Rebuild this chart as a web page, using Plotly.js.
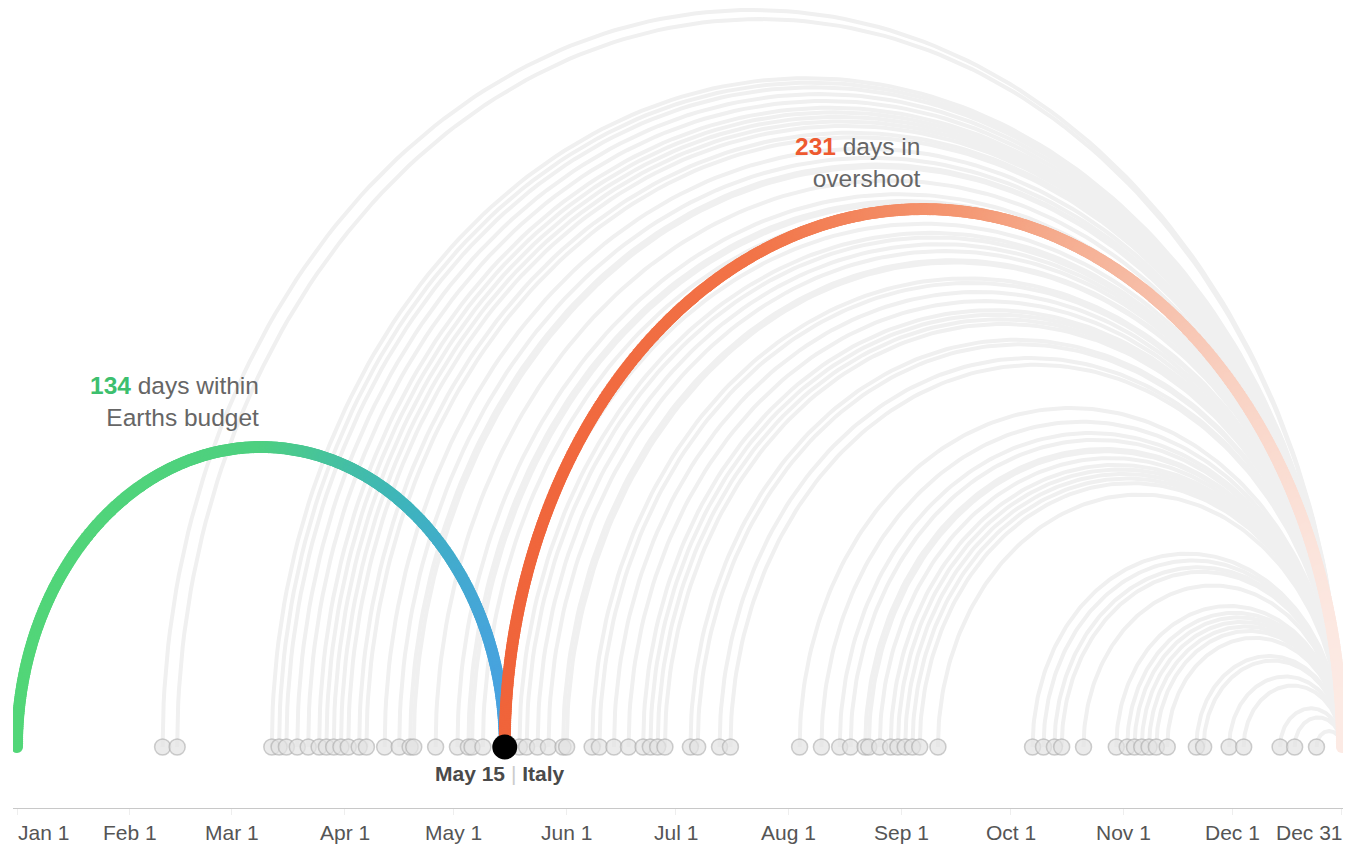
<!DOCTYPE html>
<html>
<head>
<meta charset="utf-8">
<script src="https://cdn.plot.ly/plotly-3.0.1.min.js"></script>
<style>html,body{margin:0;padding:0;background:#fff;}#chart{width:1359px;height:846px;}</style>
</head>
<body>
<div id="chart"></div>
<script>
// ---- data (day of year, Jan 1 = 0) ----
const yearEndDay = 364;              // Dec 31
const highlightCountry = "Italy";
const highlightDay = 134;            // May 15
const highlightLabel = "May 15";
const daysWithin = 134;
const daysOvershoot = 231;
const countryDays = [40, 44, 70, 72, 74, 77, 80, 83, 85, 87, 89, 91, 94, 96, 101, 105, 108, 109, 115,
  121, 124, 125, 128, 138, 140, 143, 146, 150, 151, 158, 160, 164, 168, 172, 174, 176, 178, 185, 187,
  193, 196, 215, 221, 226, 229, 233, 234, 237, 240, 242, 244, 246, 248, 253, 279, 282, 285, 287, 293,
  302, 305, 307, 309, 311, 313, 316, 324, 326, 333, 337, 347, 351, 357];
const tickDays = [0, 31, 59, 90, 120, 151, 181, 212, 243, 273, 304, 334, 364];
const tickLabels = ["Jan 1", "Feb 1", "Mar 1", "Apr 1", "May 1", "Jun 1", "Jul 1", "Aug 1", "Sep 1", "Oct 1", "Nov 1", "Dec 1", "Dec 31"];

// ---- layout geometry ----
const W = 1359, H = 846;
const M = {l: 13, r: 16, t: 0, b: 38};
const plotW = W - M.l - M.r, plotH = H - M.t - M.b;
const pxPerDay = 3.64;
const X0 = -4 / pxPerDay, X1 = X0 + plotW / pxPerDay;
const basePxFromBottom = 61;            // arcs' baseline above the axis line
const Y0 = -basePxFromBottom / pxPerDay;
const Y1 = Y0 + plotH / pxPerDay;
const GREY_RATIO = 1.25, GREEN_RATIO = 1.23, ORANGE_RATIO = 1.285;   // arc height / half width

function arcPts(a, b, ratio, n) {
  const c = (a + b) / 2, r = (b - a) / 2, h = r * ratio;
  const xs = [], ys = [];
  for (let i = 0; i <= n; i++) {
    const th = Math.PI - Math.PI * i / n;
    xs.push(c + r * Math.cos(th));
    ys.push(h * Math.sin(th));
  }
  return {x: xs, y: ys, top: h, center: c};
}
function lerpStops(stops, t) {
  for (let i = 1; i < stops.length; i++) {
    if (t <= stops[i][0]) {
      const [t0, c0] = stops[i - 1], [t1, c1] = stops[i];
      const f = (t - t0) / (t1 - t0);
      return 'rgb(' + c0.map((v, k) => Math.round(v + (c1[k] - v) * f)).join(',') + ')';
    }
  }
  return 'rgb(' + stops[stops.length - 1][1].join(',') + ')';
}

const traces = [];
// grey arcs
countryDays.concat([highlightDay]).forEach(d => {
  const p = arcPts(d, yearEndDay, GREY_RATIO, 160);
  traces.push({type: 'scatter', mode: 'lines', x: p.x, y: p.y, hoverinfo: 'skip',
    line: {color: '#f0f0f0', width: 4}, showlegend: false});
});
// country dots
traces.push({type: 'scatter', mode: 'markers', x: countryDays, y: countryDays.map(() => 0),
  marker: {size: 16, color: 'rgba(226,226,226,0.7)', line: {color: 'rgba(165,165,165,0.55)', width: 1.5}},
  hoverinfo: 'x', showlegend: false});

// gradient arcs (dense markers)
const greenStops = [[0, [82, 214, 120]], [0.5, [78, 208, 128]], [0.8, [62, 180, 188]], [1, [72, 162, 224]]];
const orangeStops = [[0, [240, 100, 58]], [0.3, [242, 116, 72]], [0.55, [244, 152, 115]], [0.8, [247, 195, 175]], [1, [252, 234, 228]]];
function gradArc(a, b, ratio, stops, n) {
  const p = arcPts(a, b, ratio, n);
  const cols = p.x.map(x => lerpStops(stops, (x - a) / (b - a)));
  traces.push({type: 'scatter', mode: 'markers', x: p.x, y: p.y, hoverinfo: 'skip', showlegend: false,
    marker: {size: 12, color: cols, line: {width: 0}}});
  return p;
}
const gArc = gradArc(0, highlightDay, GREEN_RATIO, greenStops, 500);
const oArc = gradArc(highlightDay, yearEndDay, ORANGE_RATIO, orangeStops, 900);

// highlight dot
traces.push({type: 'scatter', mode: 'markers', x: [highlightDay], y: [0], hoverinfo: 'skip', showlegend: false,
  marker: {size: 25, color: '#000'}});

const FONT = 'Liberation Sans, Arial, sans-serif';
const annotations = [];
tickLabels.forEach((t, i) => {
  const first = i === 0, last = i === tickLabels.length - 1;
  annotations.push({x: tickDays[i], y: 0, xref: 'x', yref: 'paper', text: t, showarrow: false,
    xanchor: first ? 'left' : (last ? 'right' : 'center'), yanchor: 'middle', yshift: -24,
    xshift: last ? 3 : (first ? -1 : 0),
    font: {family: FONT, size: 21, color: '#555'}});
});
annotations.push({x: highlightDay, y: 0, xref: 'x', yref: 'y', showarrow: false, yanchor: 'middle', yshift: -26,
  xanchor: 'center', xshift: -5,
  text: '<b>' + highlightLabel + '</b> <span style="color:#ccc">|</span> <b>' + highlightCountry + '</b>',
  font: {family: FONT, size: 21, color: '#4a4a4a'}});
annotations.push({x: gArc.center, y: gArc.top, xref: 'x', yref: 'y', showarrow: false, xanchor: 'right', yanchor: 'middle',
  yshift: 46, align: 'right',
  text: '<b><span style="color:#3dbf6e">' + daysWithin + '</span></b> days within<br>Earths budget',
  font: {family: FONT, size: 24.5, color: '#666'}});
annotations.push({x: oArc.center, y: oArc.top, xref: 'x', yref: 'y', showarrow: false, xanchor: 'right', yanchor: 'middle',
  yshift: 47, align: 'right',
  text: '<b><span style="color:#ee5a30">' + daysOvershoot + '</span></b> days in<br>overshoot',
  font: {family: FONT, size: 24.5, color: '#666'}});

const layout = {
  width: W, height: H, margin: M, paper_bgcolor: '#fff', plot_bgcolor: '#fff',
  showlegend: false, hovermode: 'closest',
  xaxis: {range: [X0, X1], showgrid: false, zeroline: false, showline: true, linecolor: '#c8c8c8', linewidth: 1,
    ticks: 'outside', tickvals: tickDays, ticklen: 6, tickcolor: '#eeeeee', showticklabels: false, fixedrange: true},
  yaxis: {range: [Y0, Y1], visible: false, fixedrange: true},
  annotations: annotations
};
Plotly.newPlot('chart', traces, layout, {displayModeBar: false});
</script>
</body>
</html>
